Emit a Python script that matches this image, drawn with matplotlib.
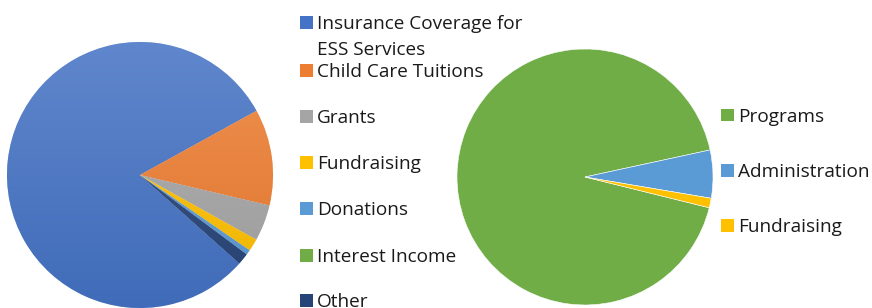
import matplotlib
matplotlib.use("Agg")

import numpy as np
import matplotlib.pyplot as plt
from matplotlib.colors import to_rgb
from matplotlib.patches import Rectangle


W, H = 872, 308

# left pie: revenue sources (share in %)
rev_labels = ["Insurance Coverage for\nESS Services", "Child Care Tuitions", "Grants",
              "Fundraising", "Donations", "Interest Income", "Other"]
rev_values = [80.4, 11.7, 4.4, 1.5, 0.6, 0.0, 1.4]
rev_colors = ["#4472C4", "#ED7D31", "#A5A5A5", "#FFC000", "#5B9BD5", "#70AD47", "#264478"]

# right pie: expenses (share in %)
exp_labels = ["Programs", "Administration", "Fundraising"]
exp_values = [92.75, 6.05, 1.2]
exp_colors = ["#70AD47", "#5B9BD5", "#FFC000"]

TEXT = "#1a1a1a"
FONT = "Open Sans"


def px_axes(fig, x0, y_top, size):
    # axes box given in pixels, y measured from top of the image
    return fig.add_axes([x0 / W, (H - y_top - size) / H, size / W, size / H])


def shade(color, amount):
    r, g, b = to_rgb(color)
    if amount >= 0:
        return np.array([r + (1 - r) * amount, g + (1 - g) * amount, b + (1 - b) * amount])
    return np.array([r, g, b]) * (1 + amount)


def draw_pie(ax, values, colors, startangle, gradient=False):
    wedges, _ = ax.pie(values, colors=colors, startangle=startangle, counterclock=False,
                       radius=1.0, wedgeprops=dict(edgecolor="white", linewidth=0.4))
    if gradient:
        t = np.linspace(0, 1, 256)[:, None]
        for w, c in zip(wedges, colors):
            top, bottom = shade(c, 0.15), shade(c, -0.06)
            img = (top[None, None, :] * (1 - t[:, :, None]) + bottom[None, None, :] * t[:, :, None])
            im = ax.imshow(img, extent=[-1, 1, -1, 1], origin="upper", aspect="auto",
                           interpolation="bilinear", zorder=w.get_zorder())
            im.set_clip_path(w)
    ax.set_xlim(-1, 1)
    ax.set_ylim(-1, 1)
    ax.set_aspect("equal")
    ax.axis("off")
    return wedges


def draw_legend(fig, labels, colors, x_box, x_text, rows, size=13.7):
    for label, color, y in zip(labels, colors, rows):
        fig.patches.append(Rectangle((x_box / W, (H - y - 6.5) / H), 12.5 / W, 12.5 / H,
                                     transform=fig.transFigure, facecolor=color,
                                     edgecolor="none", figure=fig))
        for i, line in enumerate(label.split("\n")):
            fig.text(x_text / W, (H - y - i * 26) / H, line, ha="left", va="center_baseline",
                     fontsize=size, color=TEXT, family=FONT)


fig = plt.figure(figsize=(W / 100, H / 100), dpi=100)
fig.patch.set_facecolor("white")

ax1 = px_axes(fig, 7, 42, 266)
draw_pie(ax1, rev_values, rev_colors, startangle=-41.7, gradient=True)

ax2 = px_axes(fig, 457, 49, 256)
draw_pie(ax2, exp_values, exp_colors, startangle=-13.9)

draw_legend(fig, rev_labels, rev_colors, 300, 317, [22, 70, 116, 162, 208, 255, 300])
draw_legend(fig, exp_labels, exp_colors, 721, 738, [115, 170, 225])

fig.savefig("out.png", dpi=100)
